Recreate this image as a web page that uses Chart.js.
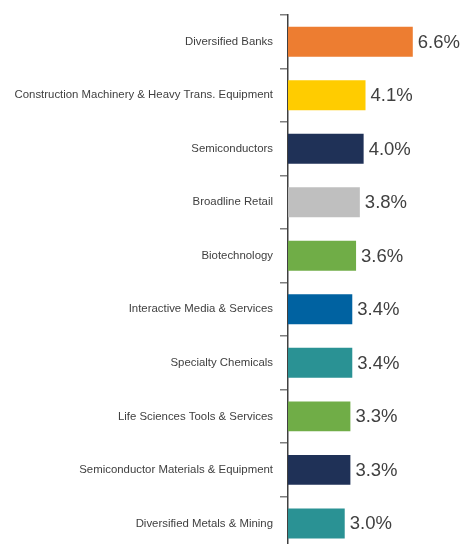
<!DOCTYPE html>
<html>
<head>
<meta charset="utf-8">
<script src="https://cdn.jsdelivr.net/npm/chart.js@4"></script>
<style>
  html, body { margin: 0; padding: 0; background: #fff; overflow: hidden; }
</style>
</head>
<body>
<canvas id="industryChart" width="461" height="564"></canvas>
<script>
const industries = [
    'Diversified Banks',
    'Construction Machinery & Heavy Trans. Equipment',
    'Semiconductors',
    'Broadline Retail',
    'Biotechnology',
    'Interactive Media & Services',
    'Specialty Chemicals',
    'Life Sciences Tools & Services',
    'Semiconductor Materials & Equipment',
    'Diversified Metals & Mining'
];
const weights = [6.6, 4.1, 4.0, 3.8, 3.6, 3.4, 3.4, 3.3, 3.3, 3.0];
const barColors = [
    '#ED7D31', '#FFCC00', '#1F3157', '#BFBFBF', '#70AD47',
    '#0062A1', '#2A9294', '#70AD47', '#1F3157', '#2A9294'
];

// draws the "6.6%" style labels just past the end of each bar
const valueLabels = {
    id: 'valueLabels',
    afterDatasetsDraw(chart) {
        const ctx = chart.ctx;
        const meta = chart.getDatasetMeta(0);
        ctx.save();
        ctx.font = '18.5px "Liberation Sans", Arial, sans-serif';
        ctx.fillStyle = '#404040';
        ctx.textAlign = 'left';
        ctx.textBaseline = 'middle';
        meta.data.forEach((bar, i) => {
            const { x, y } = bar.getProps(['x', 'y'], true);
            ctx.fillText(weights[i].toFixed(1) + '%', x + 5, y + 1);
        });
        ctx.restore();
    }
};

new Chart(document.getElementById('industryChart'), {
    type: 'bar',
    data: {
        labels: industries,
        datasets: [{
            data: weights,
            backgroundColor: barColors,
            borderWidth: 0,
            barPercentage: 0.56,
            categoryPercentage: 1
        }]
    },
    options: {
        indexAxis: 'y',
        responsive: false,
        animation: false,
        layout: { padding: { top: 15, bottom: 2, left: 0, right: 0 } },
        plugins: {
            legend: { display: false },
            tooltip: { enabled: false }
        },
        scales: {
            x: {
                display: false,
                min: 0,
                max: 9.15
            },
            y: {
                afterFit(scale) { scale.width = 288; },
                border: { display: true, color: '#404040', width: 1.5 },
                grid: {
                    display: true,
                    drawOnChartArea: false,
                    drawTicks: true,
                    tickLength: 8,
                    color: '#7F7F7F',
                    lineWidth: 1.5,
                    offset: true
                },
                ticks: {
                    padding: 7,
                    color: '#404040',
                    font: { family: '"Liberation Sans", Arial, sans-serif', size: 11.4 }
                }
            }
        }
    },
    plugins: [valueLabels]
});
</script>
</body>
</html>
